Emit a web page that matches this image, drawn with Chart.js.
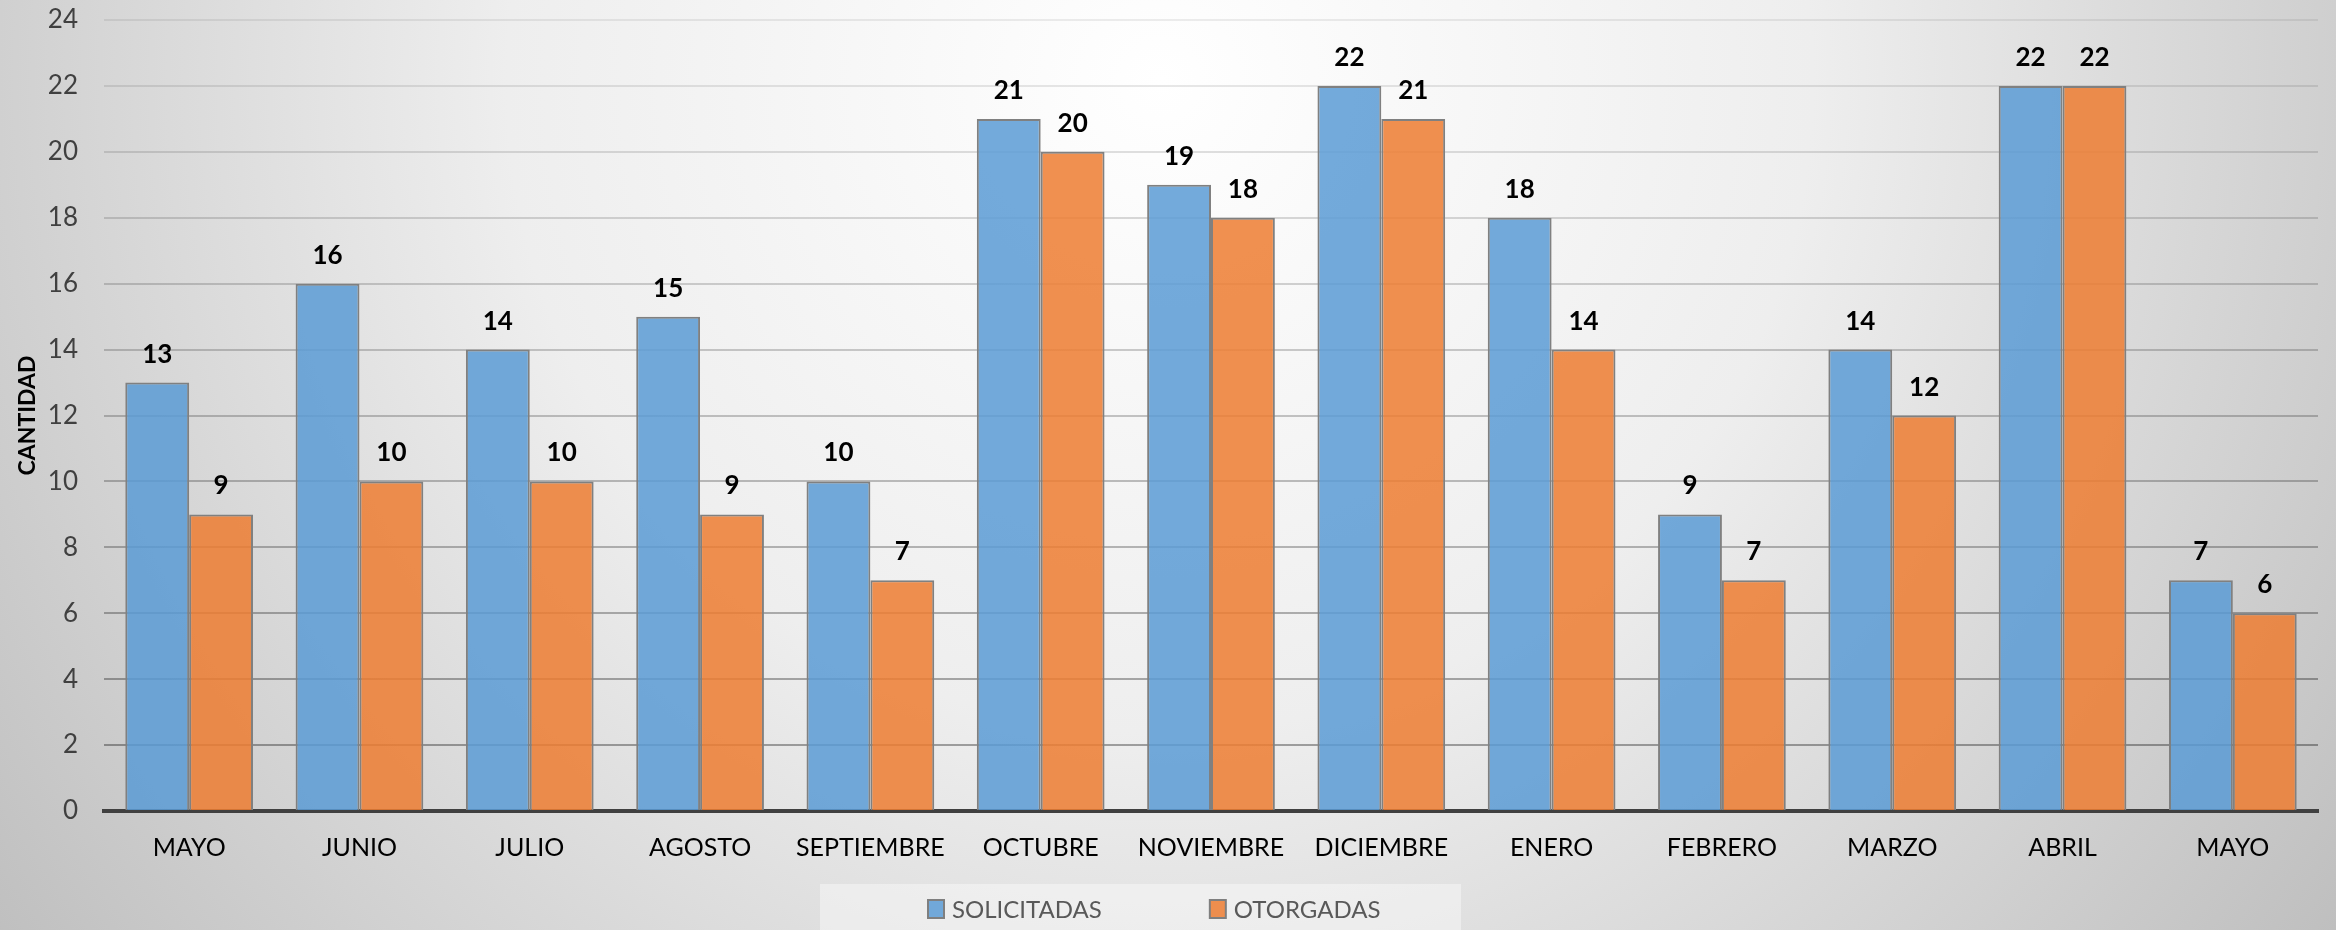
<!DOCTYPE html>
<html lang="es">
<head>
    <meta charset="UTF-8">
    <title>Solicitadas vs Otorgadas</title>
    <script src="https://cdn.jsdelivr.net/npm/chart.js"></script>
    <style>
        html, body { margin: 0; padding: 0; }
        body {
            width: 2336px;
            height: 930px;
            overflow: hidden;
            background: radial-gradient(circle 1450px at 1160px 80px, #ffffff 0%, #eeeeee 45%, #bfbfbf 100%);
        }
        .chart-container { position: relative; width: 2336px; height: 930px; }
    </style>
</head>
<body>
    <div class="chart-container">
        <canvas id="grafico"></canvas>
    </div>

    <script>
        // meses
        const meses = ['MAYO', 'JUNIO', 'JULIO', 'AGOSTO', 'SEPTIEMBRE', 'OCTUBRE', 'NOVIEMBRE',
                       'DICIEMBRE', 'ENERO', 'FEBRERO', 'MARZO', 'ABRIL', 'MAYO'];
        const solicitadas = [13, 16, 14, 15, 10, 21, 19, 22, 18, 9, 14, 22, 7];
        const otorgadas = [9, 10, 10, 9, 7, 20, 18, 21, 14, 7, 12, 22, 6];
        const ticksY = [0, 2, 4, 6, 8, 10, 12, 14, 16, 18, 20, 22, 24];

        Chart.defaults.font.family = 'Lato, "Open Sans", sans-serif';

        // etiquetas encima de las barras
        const etiquetas = {
            id: 'etiquetas',
            afterDatasetsDraw(chart) {
                const ctx = chart.ctx;
                ctx.save();
                ctx.font = 'bold 26px Lato';
                ctx.fillStyle = '#000000';
                ctx.textAlign = 'center';
                ctx.textBaseline = 'alphabetic';
                chart.data.datasets.forEach((ds, i) => {
                    chart.getDatasetMeta(i).data.forEach((bar, j) => {
                        ctx.fillText(ds.data[j], bar.x, bar.y - 20);
                    });
                });
                ctx.restore();
            }
        };

        // leyenda abajo con fondo claro
        const leyenda = {
            id: 'leyenda',
            afterDraw(chart) {
                const ctx = chart.ctx;
                ctx.save();
                ctx.fillStyle = 'rgba(255,255,255,0.4)';
                ctx.fillRect(820, 884, 641, 46);
                ctx.font = '24px Lato';
                ctx.textBaseline = 'middle';
                let x = 928;
                chart.data.datasets.forEach(ds => {
                    ctx.fillStyle = ds.backgroundColor;
                    ctx.fillRect(x, 900, 16, 18);
                    ctx.strokeStyle = '#7f7f7f';
                    ctx.lineWidth = 2;
                    ctx.strokeRect(x, 900, 16, 18);
                    ctx.fillStyle = '#595959';
                    ctx.fillText(ds.label, x + 24, 910);
                    x += 24 + ctx.measureText(ds.label).width + 108;
                });
                ctx.restore();
            }
        };

        new Chart(document.getElementById('grafico'), {
            type: 'bar',
            data: {
                labels: meses,
                datasets: [{
                    label: 'SOLICITADAS',
                    data: solicitadas,
                    backgroundColor: 'rgba(91,155,213,0.85)',
                    borderColor: '#808080',
                    borderWidth: 2
                }, {
                    label: 'OTORGADAS',
                    data: otorgadas,
                    backgroundColor: 'rgba(237,125,49,0.85)',
                    borderColor: '#808080',
                    borderWidth: 2
                }]
            },
            options: {
                responsive: true,
                maintainAspectRatio: false,
                animation: false,
                categoryPercentage: 0.75,
                barPercentage: 1.0,
                layout: { padding: { top: 20, right: 18, bottom: 69, left: 0 } },
                plugins: {
                    legend: { display: false },
                    tooltip: { enabled: false }
                },
                scales: {
                    x: {
                        grid: { display: false, drawTicks: false },
                        border: { display: true, color: '#404040', width: 4 },
                        ticks: { color: '#000000', font: { size: 25 }, padding: 22, maxRotation: 0, autoSkip: false },
                        afterFit: s => { s.height = 50; }
                    },
                    y: {
                        min: 0,
                        max: 24,
                        afterBuildTicks: s => { s.ticks = ticksY.map(v => ({ value: v })); },
                        grid: {
                            drawTicks: false,
                            lineWidth: 2,
                            color: c => 'rgba(0,0,0,' + (0.36 - 0.012 * c.tick.value).toFixed(3) + ')'
                        },
                        border: { display: false },
                        ticks: { color: '#404040', font: { size: 26 }, padding: 26 },
                        title: {
                            display: true,
                            text: 'CANTIDAD',
                            color: '#000000',
                            font: { size: 23, weight: 'bold' },
                            padding: { top: 14, bottom: 0 }
                        },
                        afterFit: s => {
                            s.width = 104;
                            s.paddingTop = 16;
                            s.paddingBottom = 16;
                        }
                    }
                }
            },
            plugins: [etiquetas, leyenda]
        });
    </script>
</body>
</html>
